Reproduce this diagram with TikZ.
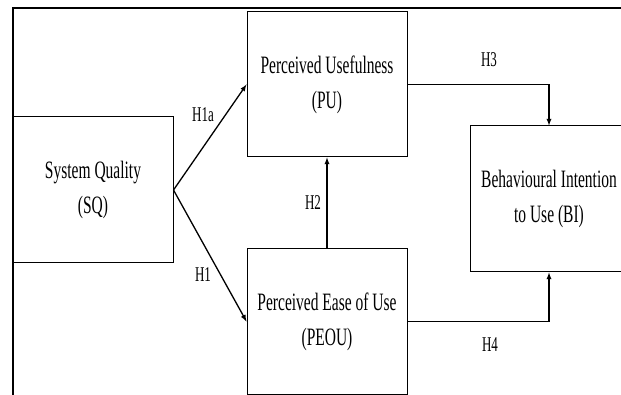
\documentclass[tikz,border=0pt]{standalone}
\usepackage{fontspec}
\setmainfont{Liberation Serif}[FakeStretch=0.62]
\usepackage{tikz}
\usetikzlibrary{shapes,arrows,positioning}

\tikzset{
	construct/.style={draw,line width=1pt,rectangle,minimum width=160pt,minimum height=145pt,inner sep=0pt,align=center,font=\fontsize{25}{35}\selectfont,execute at begin node={\rule{0pt}{36pt}}},
	hyp/.style={-latex,line width=1.3pt},
	hlabel/.style={inner sep=0pt,font=\fontsize{21}{25}\selectfont}
}

\begin{document}
\begin{tikzpicture}[x=1pt,y=-1pt]
			\useasboundingbox (0,0) rectangle (621,395);
			\draw[line width=2.2pt] (13,395) -- (13,8) -- (621,8);
			\node[construct,minimum height=146pt] (sq) at (93,190) {System Quality\\(SQ)};
			\node[construct] (pu) at (327,84.5) {Perceived Usefulness\\(PU)};
			\node[construct] (peou) at (327,321.5) {Perceived Ease of Use\\(PEOU)};
			\node[construct,minimum width=158pt,minimum height=146pt] (bi) at (549,199) {Behavioural Intention\\to Use (BI)};
			\draw[hyp] (sq.east) -- (pu.west);
			\draw[hyp] (sq.east) -- (peou.west);
			\draw[hyp] (peou.north) -- (pu.south);
			\draw[hyp] (pu.east) -| (bi.north);
			\draw[hyp] (peou.east) -| (bi.south);
			\node[hlabel] (h1a) at (203,115) {H1a};
			\node[hlabel] (h1) at (203,275) {H1};
			\node[hlabel] (h2) at (313,203) {H2};
			\node[hlabel] (h3) at (489,60) {H3};
			\node[hlabel] (h4) at (490,345) {H4};
		\end{tikzpicture}
\end{document}
